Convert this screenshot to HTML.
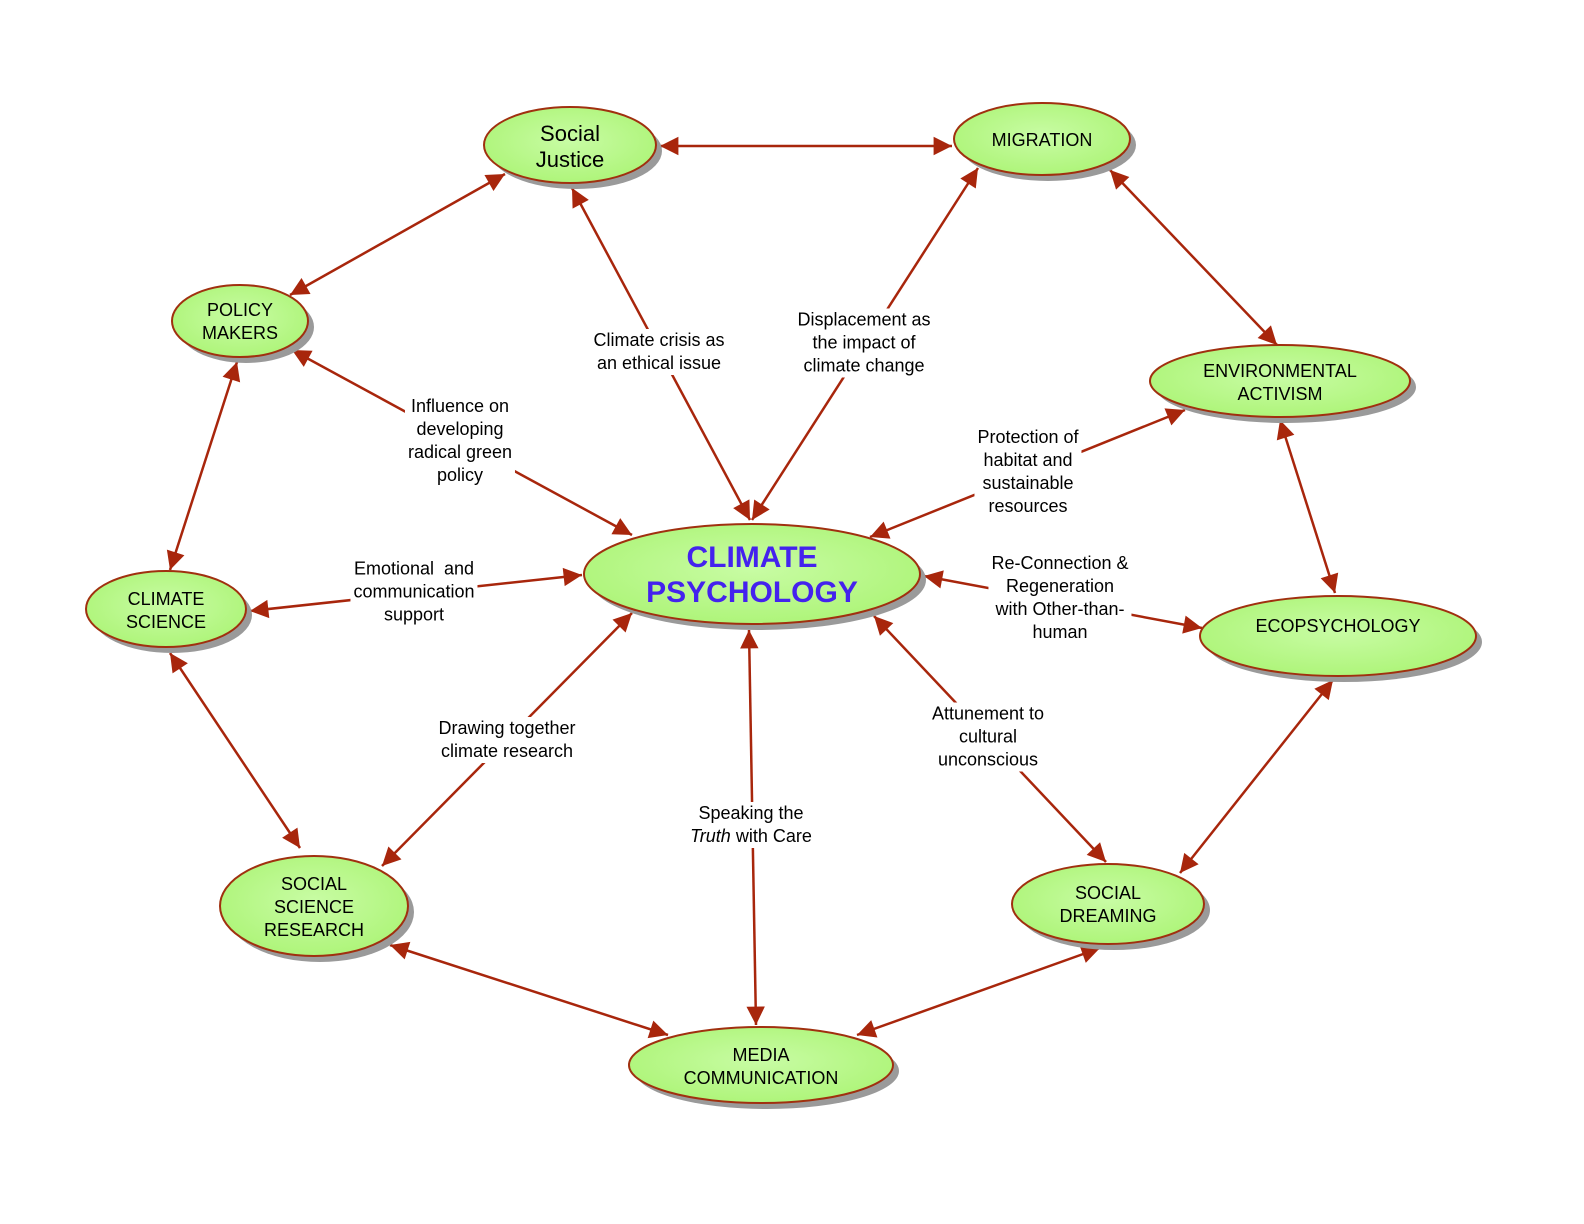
<!DOCTYPE html>
<html><head><meta charset="utf-8"><style>
html,body{margin:0;padding:0;background:#fff;}
#w{position:relative;width:1584px;height:1224px;overflow:hidden;font-family:"Liberation Sans",sans-serif;}
svg{position:absolute;left:0;top:0;}
.l{position:absolute;transform:translate(-50%,-50%);background:#fff;color:#000;font-size:18px;line-height:23px;text-align:center;white-space:nowrap;padding:0 3px;}
</style></head><body><div id="w">
<svg width="1584" height="1224" viewBox="0 0 1584 1224">
<defs>
<marker id="a" viewBox="0 0 10 10" refX="10" refY="5" markerWidth="8" markerHeight="8" markerUnits="userSpaceOnUse" orient="auto-start-reverse" style="overflow:visible">
<path d="M0,0 L10,5 L0,10 z" fill="#a8260c" transform="scale(2.3)" transform-origin="10 5"/>
</marker>
<radialGradient id="g" cx="50%" cy="45%" r="60%"><stop offset="0" stop-color="#c8fca4"/><stop offset="1" stop-color="#acf476"/></radialGradient>
</defs>
<g stroke="#a8260c" stroke-width="2.5" fill="none" marker-start="url(#a)" marker-end="url(#a)">
<line x1="660" y1="146" x2="952" y2="146"/>
<line x1="505" y1="174" x2="290" y2="295"/>
<line x1="1110" y1="170" x2="1277" y2="345"/>
<line x1="237" y1="362" x2="170" y2="570"/>
<line x1="1280" y1="420" x2="1335" y2="593"/>
<line x1="170" y1="653" x2="300" y2="848"/>
<line x1="1333" y1="680" x2="1180" y2="873"/>
<line x1="390" y1="945" x2="668" y2="1035"/>
<line x1="1100" y1="948" x2="857" y2="1035"/>
<line x1="572" y1="188" x2="750" y2="520"/>
<line x1="978" y1="168" x2="752" y2="520"/>
<line x1="292" y1="350" x2="632" y2="535"/>
<line x1="1185" y1="410" x2="870" y2="537"/>
<line x1="250" y1="611" x2="582" y2="575"/>
<line x1="1202" y1="628" x2="924" y2="576"/>
<line x1="382" y1="866" x2="632" y2="613"/>
<line x1="756" y1="1025" x2="749" y2="630"/>
<line x1="1106" y1="862" x2="874" y2="616"/>
</g>
<g fill="#9a9a9a">
<ellipse cx="576" cy="151" rx="86" ry="38"/>
<ellipse cx="1048" cy="145" rx="88" ry="36"/>
<ellipse cx="246" cy="327" rx="68" ry="36"/>
<ellipse cx="1286" cy="387" rx="130" ry="36"/>
<ellipse cx="758" cy="580" rx="168" ry="50"/>
<ellipse cx="172" cy="615" rx="80" ry="38"/>
<ellipse cx="1344" cy="642" rx="138" ry="40"/>
<ellipse cx="320" cy="912" rx="94" ry="50"/>
<ellipse cx="1114" cy="910" rx="96" ry="40"/>
<ellipse cx="767" cy="1071" rx="132" ry="38"/>
</g>
<g fill="url(#g)" stroke="#a0300f" stroke-width="2">
<ellipse cx="570" cy="145" rx="86" ry="38"/>
<ellipse cx="1042" cy="139" rx="88" ry="36"/>
<ellipse cx="240" cy="321" rx="68" ry="36"/>
<ellipse cx="1280" cy="381" rx="130" ry="36"/>
<ellipse cx="752" cy="574" rx="168" ry="50"/>
<ellipse cx="166" cy="609" rx="80" ry="38"/>
<ellipse cx="1338" cy="636" rx="138" ry="40"/>
<ellipse cx="314" cy="906" rx="94" ry="50"/>
<ellipse cx="1108" cy="904" rx="96" ry="40"/>
<ellipse cx="761" cy="1065" rx="132" ry="38"/>
</g>
<g font-family="Liberation Sans, sans-serif" font-size="18" text-anchor="middle" fill="#000">
<text x="570" y="141" font-size="22">Social</text><text x="570" y="167" font-size="22">Justice</text>
<text x="1042" y="146">MIGRATION</text>
<text x="240" y="316">POLICY</text><text x="240" y="339">MAKERS</text>
<text x="1280" y="377">ENVIRONMENTAL</text><text x="1280" y="400">ACTIVISM</text>
<text x="752" y="567" font-size="30" font-weight="bold" fill="#4422ee">CLIMATE</text>
<text x="752" y="602" font-size="30" font-weight="bold" fill="#4422ee">PSYCHOLOGY</text>
<text x="166" y="605">CLIMATE</text><text x="166" y="628">SCIENCE</text>
<text x="1338" y="632">ECOPSYCHOLOGY</text>
<text x="314" y="890">SOCIAL</text><text x="314" y="913">SCIENCE</text><text x="314" y="936">RESEARCH</text>
<text x="1108" y="899">SOCIAL</text><text x="1108" y="922">DREAMING</text>
<text x="761" y="1061">MEDIA</text><text x="761" y="1084">COMMUNICATION</text>
</g>
</svg>
<div class="l" style="left:659px;top:352px">Climate crisis as<br>an ethical issue</div>
<div class="l" style="left:864px;top:343px">Displacement as<br>the impact of<br>climate change</div>
<div class="l" style="left:460px;top:441px">Influence on<br>developing<br>radical green<br>policy</div>
<div class="l" style="left:1028px;top:472px">Protection of<br>habitat and<br>sustainable<br>resources</div>
<div class="l" style="left:414px;top:592px">Emotional&nbsp; and<br>communication<br>support</div>
<div class="l" style="left:1060px;top:598px">Re-Connection &amp;<br>Regeneration<br>with Other-than-<br>human</div>
<div class="l" style="left:507px;top:740px">Drawing together<br>climate research</div>
<div class="l" style="left:988px;top:737px">Attunement to<br>cultural<br>unconscious</div>
<div class="l" style="left:751px;top:825px">Speaking the<br><i>Truth</i> with Care</div>
</div></body></html>
